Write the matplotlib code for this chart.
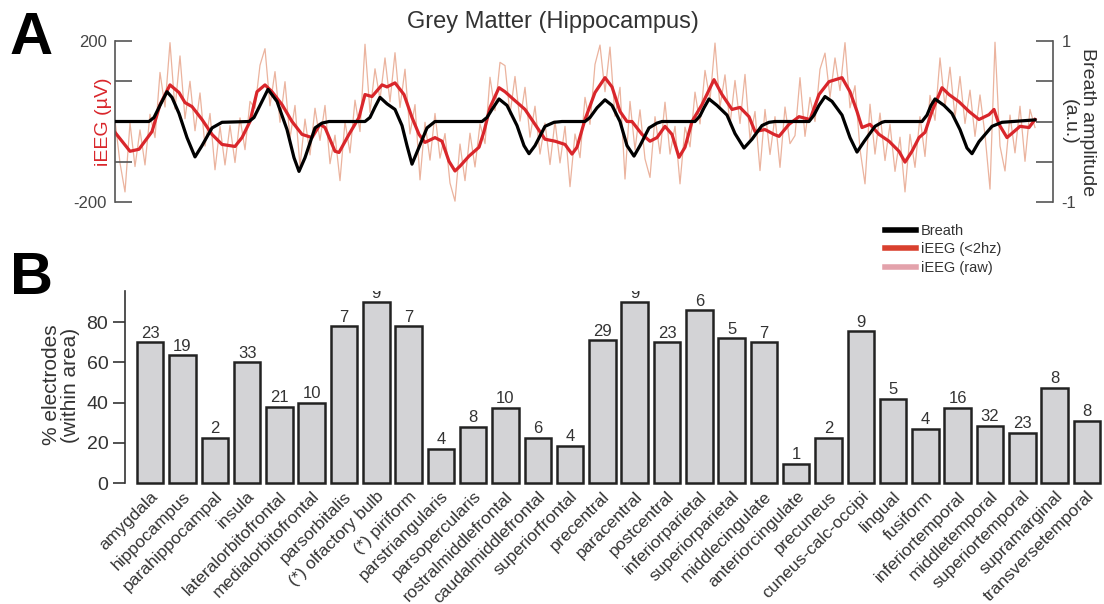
import matplotlib
matplotlib.use("Agg")
import matplotlib.pyplot as plt
import numpy as np
from matplotlib.lines import Line2D

plt.rcParams['font.family'] = ['Liberation Sans', 'DejaVu Sans']

# ---- panel A: example trace (time in samples) ----
breath_t = [0, 34, 39, 45, 52, 57, 64, 72, 80, 87, 97, 107, 134,
            139, 145, 153, 162, 172, 179, 184, 190, 200, 207, 214,
            250, 255, 260, 265, 272, 280, 287, 292, 297, 303, 312, 320,
            367, 372, 377, 384, 392, 402, 409, 414, 420, 430, 439, 447,
            470, 475, 482, 490, 497, 505, 512, 519, 525, 534, 542, 547,
            580, 585, 589, 594, 602, 612, 620, 629, 637, 647, 654, 660,
            694, 699, 704, 710, 717, 727, 735, 742, 749, 760, 767, 770,
            807, 812, 816, 820, 829, 837, 845, 852, 857, 864, 877, 887, 920]
breath_v = [0, 0, .05, .2, .37, .3, .1, -.2, -.44, -.3, -.08, -.01, 0,
            .05, .2, .40, .25, -.1, -.45, -.62, -.45, -.08, -.02, 0,
            0, .05, .18, .30, .22, .15, -.05, -.3, -.53, -.35, -.08, 0,
            0, .05, .15, .28, .2, -.05, -.3, -.4, -.3, -.06, -.01, 0,
            0, .05, .17, .27, .2, 0, -.3, -.43, -.3, -.08, -.02, 0,
            0, .07, .17, .28, .2, .08, -.15, -.33, -.22, -.05, -.01, 0,
            0, .08, .2, .31, .25, .08, -.2, -.38, -.25, -.06, -.01, 0,
            0, .08, .2, .28, .2, .1, -.1, -.33, -.4, -.25, -.06, -.01, .02]

ieeg_t = [0, 15, 24, 37, 45, 55, 64, 70, 77, 87, 97, 107, 120, 127, 135,
          142, 150, 157, 167, 177, 187, 197, 205, 210, 220, 224, 234, 244,
          250, 257, 267, 272, 280, 289, 297, 304, 310, 320, 327, 334, 340,
          345, 354, 364, 369, 375, 384, 390, 399, 410, 420, 430, 440, 450,
          457, 462, 470, 480, 490, 497, 505, 512, 517, 527, 535, 542, 550,
          557, 564, 570, 577, 587, 599, 607, 617, 625, 634, 640, 650, 659,
          664, 674, 684, 695, 704, 714, 727, 735, 742, 747, 755, 764, 774,
          784, 790, 797, 804, 810, 817, 827, 834, 844, 854, 864, 874, 879,
          884, 892, 899, 905, 914, 920]
ieeg_v = [-27, -74, -69, -25, 42, 91, 72, 47, 37, 5, -32, -57, -62, -40, 0,
          74, 91, 74, 42, 0, -32, -40, -7, -15, -74, -77, -32, 10,
          67, 62, 91, 86, 96, 67, 10, -32, -52, -40, -49, -99, -123,
          -111, -86, -64, -25, 35, 84, 74, 54, 30, -7, -44, -49, -57,
          -81, -64, 5, 72, 109, 86, 25, 0, 0, -32, -49, -40, -12,
          -32, -89, -64, 0, 42, 104, 67, 30, 35, 12, -25, -20, -32,
          -37, -7, 12, 5, 67, 99, 109, 74, 25, -15, -7, -32, -49,
          -74, -101, -74, -40, -27, 25, 84, 67, 49, 25, 5, 17, 30,
          -7, -40, -25, -12, -15, 5]

# raw iEEG, one value every 5 samples
ieeg_raw = [3, -103, -175, -4, -112, -21, -108, 18, -40, 122,
            36, 196, 31, 163, 7, 100, -23, 71, -61, 20,
            -120, -12, -108, -10, -102, 9, -70, 50, 33, 140,
            181, 39, 124, -2, 99, -42, 40, -111, 6, -83,
            33, -47, 40, -105, -34, -147, 0, -78, 53, -25,
            192, 23, 131, 55, 158, 49, 171, 35, 130, -31,
            42, -145, -2, -96, 20, -91, -30, -153, -198, -56,
            -147, -29, -113, -6, -55, 110, 27, 147, 139, 18,
            112, 1, 85, -39, 38, -81, -4, -107, 1, -103,
            -12, -162, -31, -90, 60, -7, 142, 190, 74, 185,
            13, 85, -143, 50, -70, 29, -93, -139, 12, -80,
            48, -81, -12, -155, -14, -63, 73, -6, 127, 53,
            195, 36, 116, -8, 102, -5, 117, -44, 25, -122,
            30, -82, 12, -114, 36, -55, -35, 109, -37, 60,
            0, 130, 170, 60, 158, 77, 196, 34, 89, -69,
            -155, 43, -81, 21, -97, -7, -124, -39, -175, -32,
            -114, 12, -87, 65, 3, 158, 37, 135, 11, 112,
            -5, 78, -37, 66, -33, -168, 197, -61, -123, 16,
            -78, 38, -99, 30, -15]
raw_t = np.arange(len(ieeg_raw)) * 5

# ---- panel B: bar chart ----
areas = ['amygdala', 'hippocampus', 'parahippocampal', 'insula',
         'lateralorbitofrontal', 'medialorbitofrontal', 'parsorbitalis',
         '(*) olfactory bulb', '(*) piriform', 'parstriangularis',
         'parsopercularis', 'rostralmiddlefrontal', 'caudalmiddlefrontal',
         'superiorfrontal', 'precentral', 'paracentral', 'postcentral',
         'inferiorparietal', 'superiorparietal', 'middlecingulate',
         'anteriorcingulate', 'precuneus', 'cuneus-calc-occipi', 'lingual',
         'fusiform', 'inferiortemporal', 'middletemporal',
         'superiortemporal', 'supramarginal', 'transversetemporal']
pct = [70, 63.5, 22.5, 60, 38, 40, 78, 90, 78, 17,
       28, 37.5, 22.5, 18.5, 71, 90, 70, 86, 72, 70,
       9.5, 22.5, 75.5, 42, 27, 37.5, 28.5, 25, 47.5, 31]
n_elec = [23, 19, 2, 33, 21, 10, 7, 9, 7, 4,
          8, 10, 6, 4, 29, 9, 23, 6, 5, 7,
          1, 2, 9, 5, 4, 16, 32, 23, 8, 8]

red = '#d9262b'
raw_col = '#ebb39e'
grey_txt = '#333333'
W, H = 1104, 604

fig = plt.figure(figsize=(11.04, 6.04), dpi=100)

# ---------------- A ----------------
ax = fig.add_axes([115 / W, 1 - 208 / H, (1053 - 115) / W, 173 / H])
ax2 = ax.twinx()
ax.set_xlim(0, 938)
ax.set_ylim(-215, 215)
ax2.set_ylim(-1.075, 1.075)

ax.plot(raw_t, ieeg_raw, color=raw_col, lw=0.9, zorder=1)
ax.plot(ieeg_t, ieeg_v, color=red, lw=2.3, zorder=2, solid_joinstyle='round')
ax2.plot(breath_t, breath_v, color='black', lw=2.3, solid_joinstyle='round')

for a in (ax, ax2):
    for s in ('top', 'bottom'):
        a.spines[s].set_visible(False)
    a.set_xticks([])
ax.spines['right'].set_visible(False)
ax2.spines['left'].set_visible(False)
ax.spines['left'].set_bounds(-200, 200)
ax2.spines['right'].set_bounds(-1, 1)
for sp in (ax.spines['left'], ax2.spines['right']):
    sp.set_color('#555555')
    sp.set_linewidth(1.2)

ax.set_yticks([-200, -100, 0, 100, 200])
ax.set_yticklabels(['-200', '', '', '', '200'])
ax2.set_yticks([-1, -0.5, 0, 0.5, 1])
ax2.set_yticklabels(['-1', '', '', '', '1'])
for a in (ax, ax2):
    a.tick_params(axis='y', direction='in', length=12, width=1.2,
                  color='#555555', labelsize=12, labelcolor='#444444', pad=6)

fig.text(104 / W, 1 - 122 / H, 'iEEG (\u00b5V)', color=red, fontsize=14,
         rotation=90, ha='center', va='center')
fig.text(1078 / W, 1 - 122 / H, 'Breath amplitude\n(a.u.)', color=grey_txt,
         fontsize=14, rotation=270, ha='center', va='center',
         multialignment='center', linespacing=1.1)
fig.text(553 / W, 1 - 22 / H, 'Grey Matter (Hippocampus)', color=grey_txt,
         fontsize=17, ha='center', va='center')
fig.text(10 / W, 1 - 38 / H, 'A', fontsize=43, fontweight='bold', va='center')

handles = [Line2D([], [], color='black', lw=4),
           Line2D([], [], color='#d9402e', lw=4),
           Line2D([], [], color='#e3a2ab', lw=4)]
fig.legend(handles, ['Breath', 'iEEG (<2hz)', 'iEEG (raw)'],
           loc='upper left', bbox_to_anchor=(885 / W, 1 - 224 / H),
           frameon=False, fontsize=10.5, handlelength=2.1,
           handletextpad=0.35, labelspacing=0.3, borderpad=0,
           borderaxespad=0, labelcolor=grey_txt)

# ---------------- B ----------------
bx = fig.add_axes([125 / W, 1 - 483 / H, (W - 125) / W, 192 / H])
x = np.arange(len(areas))
bx.bar(x, pct, width=0.82, color='#d3d3d6', edgecolor='#222222',
       linewidth=1.8, clip_on=False)
for xi, v, n in zip(x, pct, n_elec):
    bx.text(xi, v + 2.2, str(n), ha='center', va='baseline', fontsize=12,
            color=grey_txt, clip_on=True)

bx.set_xlim(-0.78, 29.53)
bx.set_ylim(0, 95.5)
for s in ('top', 'right', 'bottom'):
    bx.spines[s].set_visible(False)
bx.spines['left'].set_color('#333333')
bx.spines['left'].set_linewidth(1.2)
bx.set_yticks([0, 20, 40, 60, 80])
bx.tick_params(axis='y', direction='out', length=9, width=1.2,
               color='#333333', labelsize=14, labelcolor=grey_txt, pad=3)
bx.set_xticks(x)
bx.set_xticklabels(areas, rotation=45, ha='right', rotation_mode='anchor',
                   fontsize=12.5, color=grey_txt)
bx.tick_params(axis='x', length=0, pad=4)

fig.text(61 / W, 1 - 385 / H, '% electrodes\n(within area)', color=grey_txt,
         fontsize=15, rotation=90, ha='center', va='center',
         multialignment='center', linespacing=1.05)
fig.text(10 / W, 1 - 279 / H, 'B', fontsize=43, fontweight='bold', va='center')

fig.savefig('out.png', dpi=100)
